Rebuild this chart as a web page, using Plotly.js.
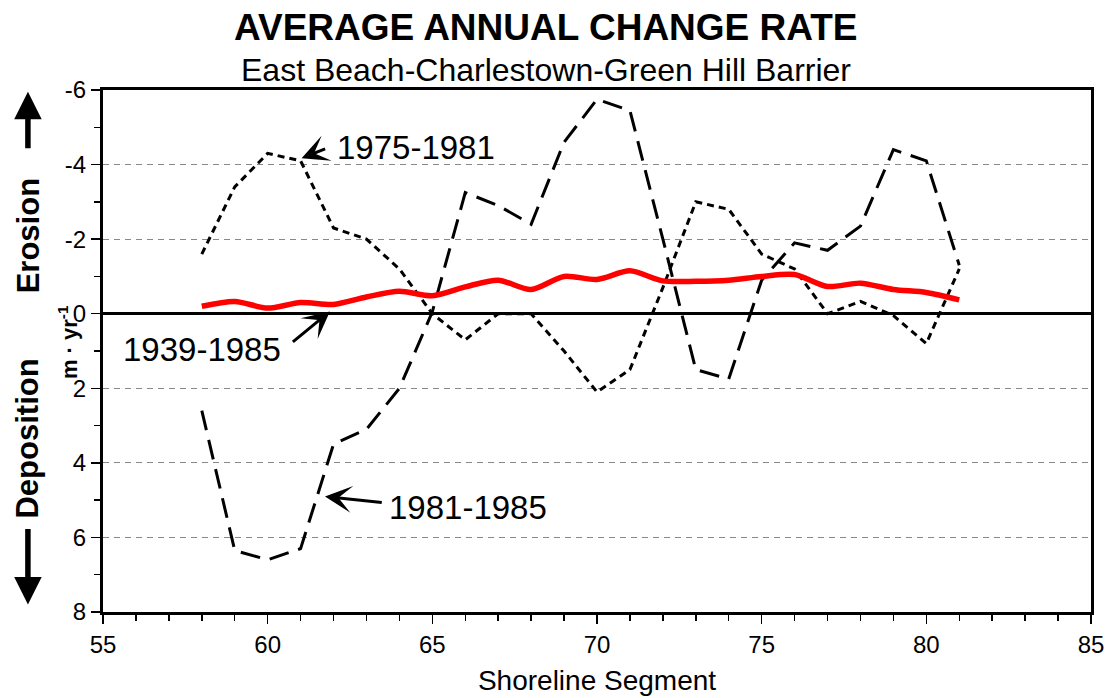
<!DOCTYPE html>
<html>
<head>
<meta charset="utf-8">
<script src="https://cdn.plot.ly/plotly-3.0.1.min.js"></script>
<style>
  html, body { margin: 0; padding: 0; background: #ffffff; }
  #chart { width: 1110px; height: 698px; }
</style>
</head>
<body>
<div id="chart"></div>
<script>
  // shoreline segments and average annual change rates (m/yr, negative = erosion)
  const segments = [58, 59, 60, 61, 62, 63, 64, 65, 66, 67, 68, 69, 70, 71, 72, 73, 74, 75, 76, 77, 78, 79, 80, 81];

  const rate1975_1981 = [-1.6, -3.4, -4.3, -4.1, -2.3, -2.0, -1.2, 0.0, 0.7, 0.0, 0.0, 1.0,
                         2.1, 1.5, -0.7, -3.0, -2.8, -1.6, -1.2, 0.0, -0.33, 0.05, 0.8, -1.2];

  const rate1981_1985 = [2.6, 6.35, 6.6, 6.3, 3.5, 3.1, 2.0, -0.05, -3.25, -2.9, -2.4, -4.6,
                         -5.75, -5.45, -2.0, 1.5, 1.75, -0.9, -1.9, -1.7, -2.35, -4.4, -4.1, -1.3];

  const rate1939_1985 = [-0.2, -0.33, -0.15, -0.3, -0.25, -0.45, -0.6, -0.48, -0.72, -0.9, -0.65, -1.0,
                         -0.92, -1.15, -0.88, -0.87, -0.9, -1.0, -1.05, -0.73, -0.82, -0.65, -0.57, -0.37];

  const xTickVals = [55, 60, 65, 70, 75, 80, 85];
  const yTickVals = [-6, -4, -2, 0, 2, 4, 6, 8];
  const yTickText = ["-6", "-4", "-2", "0", "2", "4", "6", "8"];

  const FONT = "Arial, 'Liberation Sans', sans-serif";

  const traces = [
    {
      type: "scatter",
      mode: "lines",
      name: "1975-1981",
      x: segments,
      y: rate1975_1981,
      line: { color: "#000000", width: 3, dash: "7px,5px" }
    },
    {
      type: "scatter",
      mode: "lines",
      name: "1981-1985",
      x: segments,
      y: rate1981_1985,
      line: { color: "#000000", width: 3, dash: "20px,10px" }
    },
    {
      type: "scatter",
      mode: "lines",
      name: "1939-1985",
      x: segments,
      y: rate1939_1985,
      line: { color: "#ff0000", width: 5.5, shape: "spline", smoothing: 0.8 }
    }
  ];

  function seriesLabel(text, x, y, anchor) {
    return {
      xref: "x", yref: "y", x, y, text, showarrow: false,
      xanchor: anchor, yanchor: "middle",
      font: { family: FONT, size: 33, color: "#000000" }
    };
  }

  function pointer(x, y, ax, ay) {
    return {
      xref: "x", yref: "y", x, y, ax, ay, axref: "x", ayref: "y",
      text: "", showarrow: true,
      arrowhead: 3, arrowsize: 1.5, arrowwidth: 3, arrowcolor: "#000000"
    };
  }

  const annotations = [
    {
      xref: "paper", yref: "paper", x: 0.448, y: 1.119,
      text: "<b>AVERAGE ANNUAL CHANGE RATE</b>", showarrow: false,
      xanchor: "center", yanchor: "middle",
      font: { family: FONT, size: 37, color: "#000000" }
    },
    {
      xref: "paper", yref: "paper", x: 0.448, y: 1.038,
      text: "East Beach-Charlestown-Green Hill Barrier", showarrow: false,
      xanchor: "center", yanchor: "middle",
      font: { family: FONT, size: 32, color: "#000000" }
    },
    // left side labels
    {
      xref: "paper", yref: "y", x: -0.076, y: -2.1,
      text: "<b>Erosion</b>", textangle: -90, showarrow: false,
      xanchor: "center", yanchor: "middle",
      font: { family: FONT, size: 31, color: "#000000" }
    },
    {
      xref: "paper", yref: "y", x: -0.076, y: 3.35,
      text: "<b>Deposition</b>", textangle: -90, showarrow: false,
      xanchor: "center", yanchor: "middle",
      font: { family: FONT, size: 31, color: "#000000" }
    },
    {
      xref: "paper", yref: "y", x: -0.036, y: 0.75,
      text: "<b>m · yr<sup>-1</sup></b>", textangle: -90, showarrow: false,
      xanchor: "center", yanchor: "middle",
      font: { family: FONT, size: 22, color: "#000000" }
    },
    {
      xref: "paper", yref: "y", x: -0.076, y: -5.95, ax: 0, ay: 58,
      text: "", showarrow: true,
      arrowhead: 2, arrowsize: 1.0, arrowwidth: 5.5, arrowcolor: "#000000"
    },
    {
      xref: "paper", yref: "y", x: -0.076, y: 7.8, ax: 0, ay: -77,
      text: "", showarrow: true,
      arrowhead: 2, arrowsize: 1.0, arrowwidth: 5.5, arrowcolor: "#000000"
    },
    // series labels with pointers
    seriesLabel("1975-1981", 62.04, -4.45, "left"),
    pointer(61.03, -4.17, 61.79, -4.44),
    seriesLabel("1939-1985", 60.46, 0.97, "right"),
    pointer(61.89, -0.06, 60.72, 0.79),
    seriesLabel("1981-1985", 63.62, 5.2, "left"),
    pointer(61.74, 4.9, 63.51, 5.07)
  ];

  const layout = {
    width: 1110,
    height: 698,
    paper_bgcolor: "#ffffff",
    plot_bgcolor: "#ffffff",
    margin: { l: 103, r: 19, t: 90, b: 86 },
    showlegend: false,
    font: { family: FONT, color: "#000000" },
    xaxis: {
      range: [55, 85],
      tickmode: "array",
      tickvals: xTickVals,
      ticks: "outside",
      ticklen: 9,
      tickwidth: 1.5,
      tickcolor: "#000000",
      minor: { dtick: 1, ticks: "outside", ticklen: 6, tickwidth: 1.5, tickcolor: "#000000", showgrid: false },
      showgrid: false,
      zeroline: false,
      showline: true,
      mirror: true,
      linecolor: "#000000",
      linewidth: 3,
      tickfont: { family: FONT, size: 24, color: "#000000" },
      title: {
        text: "Shoreline Segment",
        font: { family: FONT, size: 28, color: "#000000" },
        standoff: 14
      }
    },
    yaxis: {
      range: [8, -6],
      tickmode: "array",
      tickvals: yTickVals,
      ticktext: yTickText,
      ticks: "outside",
      ticklen: 9,
      tickwidth: 1.5,
      tickcolor: "#000000",
      minor: { dtick: 1, ticks: "outside", ticklen: 6, tickwidth: 1.5, tickcolor: "#000000", showgrid: false },
      showgrid: true,
      gridcolor: "#888888",
      gridwidth: 1,
      griddash: "6px,5px",
      zeroline: true,
      zerolinecolor: "#000000",
      zerolinewidth: 2.5,
      showline: true,
      mirror: true,
      linecolor: "#000000",
      linewidth: 3,
      tickfont: { family: FONT, size: 24, color: "#000000" }
    },
    annotations
  };

  Plotly.newPlot("chart", traces, layout, { displayModeBar: false, staticPlot: true });
</script>
</body>
</html>
